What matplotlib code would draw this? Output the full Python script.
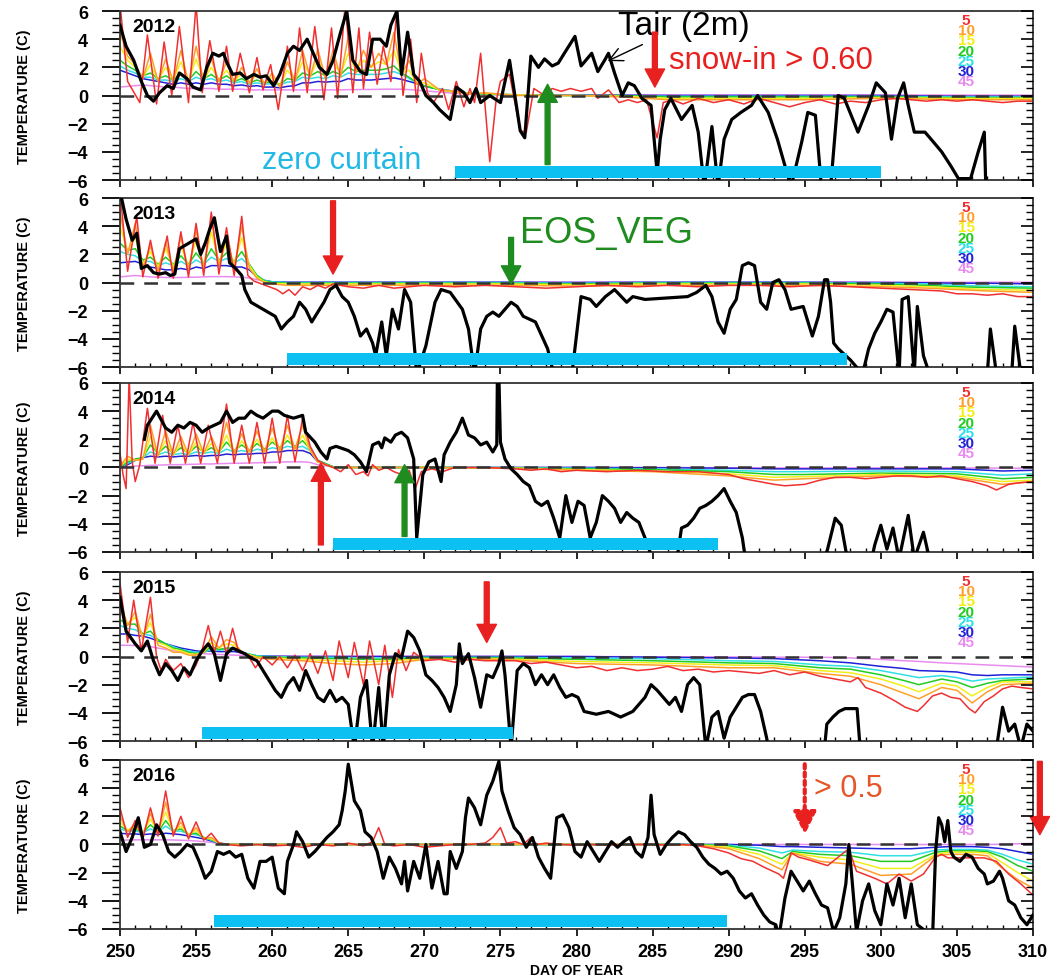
import matplotlib.pyplot as plt
from matplotlib.ticker import MultipleLocator

plt.rcParams['font.family'] = ['Liberation Sans', 'DejaVu Sans']

# ---------------- 2012 ----------------
tair_day_2012 = [250.0, 250.4, 250.9, 251.4, 251.8, 252.2, 252.6, 253.1, 253.5, 253.9,
                 254.4, 254.8, 255.3, 255.7, 256.1, 256.5, 256.8, 257.0, 257.4, 257.9,
                 258.3, 258.8, 259.2, 259.6, 260.1, 260.5, 261.0, 261.4, 261.8, 262.3,
                 262.7, 263.1, 263.6, 264.0, 264.5, 264.9, 265.3, 265.8, 266.2, 266.6,
                 267.1, 267.5, 267.8, 268.2, 268.5, 268.9, 269.3, 269.7, 270.1, 270.6,
                 271.0, 271.7, 272.1, 272.6, 273.0, 273.4, 273.7, 274.3, 275.0, 275.6,
                 276.3, 276.6, 277.0, 277.5, 277.9, 278.4, 278.8, 279.2, 279.9, 280.3,
                 281.0, 281.4, 281.9, 282.1, 282.5, 283.0, 283.4, 283.8, 284.3, 284.9,
                 285.3, 285.5, 285.8, 286.2, 286.9, 287.6, 288.0, 288.4, 288.9, 289.3,
                 289.7, 290.2, 290.8, 291.5, 291.9, 292.6, 293.2, 294.1, 294.8, 295.2,
                 295.7, 296.1, 296.7, 297.2, 297.6, 298.5, 299.2, 299.7, 300.3, 300.7,
                 301.1, 301.5, 301.8, 302.2, 302.9, 303.3, 304.0, 304.6, 305.1, 305.9,
                 306.4, 306.8, 306.9]
tair_2012 = [5.0, 3.5, 2.5, 1.0, 0.0, -0.4, 0.2, 0.7, 0.5, 1.6,
             1.2, 0.6, 0.4, 2.0, 3.0, 2.8, 3.0, 2.4, 1.5, 1.6,
             1.2, 1.5, 1.3, 1.4, 0.7, 1.5, 3.0, 3.5, 3.2, 4.0,
             3.0, 2.0, 1.5, 2.5, 4.5, 6.0, 2.5, 1.7, 1.5, 4.0,
             4.0, 3.5, 5.0, 6.0, 1.5, 4.5, 1.5, 1.0, 0.0, -0.5,
             -1.0, -1.7, 0.6, 0.2, -0.5, 0.5, -0.5, 0.0, -0.5, 2.5,
             -2.5, -3.0, 2.8, 2.0, 2.6, 2.1, 2.3, 3.0, 4.2, 2.1,
             3.0, 1.7, 2.6, 3.0, 1.6, 0.0, 0.9, 0.7, -0.2, -0.7,
             -5.5, -3.1, -1.0, -0.2, -1.7, -0.7, -2.6, -6.5, -2.2, -6.5,
             -3.1, -1.7, -1.2, -0.7, 0.0, -1.2, -3.1, -6.5, -3.3, -1.2,
             -1.4, -6.5, -6.5, 0.0, -0.2, -2.6, -0.7, 0.9, 0.2, -3.1,
             -0.2, 0.9, -0.7, -2.6, -2.6, -3.1, -4.0, -5.0, -5.9, -5.9,
             -4.0, -2.6, -6.5]

t5_day_2012 = [250.0, 250.5, 251.3, 251.8, 252.4, 252.9, 253.4, 253.9, 254.5, 255.0,
               255.4, 255.9, 256.5, 257.0, 257.4, 257.9, 258.5, 259.0, 259.4, 259.9,
               260.4, 261.0, 261.4, 261.8, 262.3, 262.8, 263.4, 263.9, 264.3, 264.8,
               265.3, 265.7, 266.0, 266.4, 266.9, 267.3, 267.8, 268.2, 268.6, 269.1,
               269.5, 269.8, 270.2, 270.6, 271.2, 271.6, 272.1, 272.6, 273.0, 273.3,
               273.7, 274.3, 274.7, 275.0, 275.6, 276.3, 276.7, 277.2, 277.9, 278.4,
               279.0, 279.6, 280.3, 281.0, 281.4, 282.1, 282.8, 283.4, 284.0, 284.6,
               285.3, 285.7, 286.3, 287.0, 288.0, 289.0, 290.0, 291.0, 292.0, 293.0,
               294.0, 295.0, 296.0, 297.0, 298.0, 299.0, 300.0, 301.0, 302.0, 303.0,
               304.0, 305.0, 306.0, 307.0, 308.0, 309.0, 310.0]
t5_2012 = [6.5, 1.0, -0.5, 4.3, -0.6, 3.8, 0.0, 4.9, -0.5, 6.5,
           0.2, 3.9, 0.3, 3.5, 0.3, 3.0, 0.2, 2.7, 0.4, 2.2,
           -1.0, 3.5, 0.3, 4.8, 0.2, 4.9, -0.3, 4.8, -0.2, 6.5,
           0.2, 4.8, 0.5, 4.5, 0.8, 3.5, 1.0, 6.2, 0.0, 4.0,
           -0.5, 3.0, 0.2, -0.5, 0.5, -1.0, 1.0, -0.8, 0.5, -0.5,
           3.0, -4.7, -0.5, 1.0, 1.5, -2.5, -2.6, 0.5, 0.0, 0.5,
           0.3, 0.5, 0.3, 0.5, -0.2, 0.4, -0.5, -0.3, -0.5, -0.3,
           -3.0, -0.5, -0.3, -0.6, -0.2, -0.5, -0.3, -0.6, -0.2, -0.5,
           -0.8, -0.5, -0.3, -0.6, -0.4, -0.5, -0.3, -0.2, -0.3, -0.4,
           -0.3, -0.4, -0.3, -0.4, -0.5, -0.4, -0.4]

soil_day_2012 = [250, 250.5, 251, 251.5, 252, 252.5, 253, 253.5, 254, 254.5,
                 255, 255.5, 256, 256.5, 257, 257.5, 258, 258.5, 259, 259.5,
                 260, 260.5, 261, 261.5, 262, 262.5, 263, 263.5, 264, 264.5,
                 265, 265.5, 266, 266.5, 267, 267.5, 268, 268.5, 269, 269.5,
                 270,
                 271, 272, 273, 274, 276, 278, 280, 283, 286, 290, 295, 300, 305, 310]
t10_2012 = [4.5, 2.8, 2.2, 1.2, 3.0, 1.0, 2.6, 1.0, 3.2, 0.9,
            3.5, 1.0, 2.6, 1.0, 2.4, 1.0, 2.0, 0.9, 1.9, 0.8,
            1.6, 0.6, 2.4, 1.0, 3.2, 1.3, 3.3, 1.2, 3.2, 1.3,
            4.2, 1.6, 3.2, 2.0, 3.0, 2.2, 4.5, 1.5, 2.5, 0.8,
            1.2,
            0.4, 0.3, 0.1, 0.2, 0.0, 0.0, 0.0, -0.1, -0.3, -0.3, -0.3, -0.2, -0.3, -0.3]
t15_2012 = [3.5, 2.5, 2.0, 1.3, 2.2, 1.1, 2.0, 1.1, 2.4, 1.0,
            2.6, 1.1, 2.0, 1.1, 1.8, 1.0, 1.6, 0.9, 1.5, 0.9,
            1.3, 0.7, 1.8, 1.1, 2.4, 1.4, 2.5, 1.4, 2.4, 1.5,
            3.0, 1.8, 2.5, 2.0, 2.4, 2.2, 3.2, 1.6, 1.8, 0.9,
            0.9,
            0.4, 0.25, 0.15, 0.15, 0.05, 0.0, 0.0, -0.05, -0.2, -0.2, -0.2, -0.15, -0.2, -0.2]
t20_2012 = [2.5, 2.1, 1.8, 1.4, 1.6, 1.2, 1.4, 1.1, 1.6, 1.1,
            1.7, 1.2, 1.5, 1.1, 1.4, 1.0, 1.2, 0.9, 1.1, 0.9,
            1.0, 0.8, 1.2, 1.1, 1.6, 1.4, 1.7, 1.4, 1.7, 1.5,
            2.0, 1.7, 1.8, 1.8, 1.8, 1.9, 2.1, 1.6, 1.3, 0.9,
            0.7,
            0.4, 0.25, 0.15, 0.1, 0.05, 0.0, 0.0, 0.0, -0.1, -0.1, -0.1, -0.1, -0.15, -0.15]
t25_2012 = [2.1, 1.8, 1.6, 1.3, 1.3, 1.1, 1.1, 1.0, 1.2, 1.0,
            1.3, 1.1, 1.2, 1.0, 1.1, 0.9, 1.0, 0.8, 0.9, 0.8,
            0.85, 0.75, 0.95, 1.0, 1.3, 1.2, 1.3, 1.2, 1.4, 1.3,
            1.6, 1.5, 1.5, 1.5, 1.5, 1.6, 1.7, 1.5, 1.2, 0.9,
            0.7,
            0.45, 0.3, 0.15, 0.1, 0.05, 0.02, 0.0, 0.0, -0.05, -0.05, -0.05, -0.05, -0.1, -0.1]
t30_2012 = [1.8, 1.6, 1.4, 1.2, 1.1, 1.0, 0.9, 0.8, 0.9, 0.8,
            0.9, 0.8, 0.9, 0.8, 0.8, 0.7, 0.75, 0.65, 0.7, 0.6,
            0.6, 0.55, 0.65, 0.7, 0.9, 0.9, 1.0, 0.95, 1.0, 1.0,
            1.2, 1.1, 1.1, 1.1, 1.15, 1.2, 1.25, 1.15, 1.0, 0.85,
            0.65,
            0.45, 0.3, 0.15, 0.1, 0.05, 0.05, 0.03, 0.02, 0.0, 0.0, 0.0, 0.0, -0.05, -0.05]
t45_2012 = [0.6, 0.65, 0.7, 0.75, 0.7, 0.65, 0.6, 0.6, 0.55, 0.5,
            0.5, 0.5, 0.5, 0.45, 0.45, 0.45, 0.45, 0.4, 0.4, 0.4,
            0.4, 0.4, 0.4, 0.4, 0.4, 0.4, 0.4, 0.4, 0.4, 0.4,
            0.42, 0.42, 0.43, 0.43, 0.44, 0.45, 0.45, 0.45, 0.42, 0.38,
            0.33,
            0.25, 0.15, 0.1, 0.07, 0.05, 0.05, 0.05, 0.05, 0.05, 0.05, 0.05, 0.05, 0.03, 0.03]

# ---------------- 2013 ----------------
tair_day_2013 = [250.0, 250.4, 250.8, 251.1, 251.4, 251.8, 252.2, 252.6, 253.0, 253.3,
                 253.6, 253.9, 255.0, 255.3, 255.6, 255.9, 256.2, 256.6, 257.0, 257.2,
                 257.6, 258.0, 258.2, 258.6, 259.4, 260.2, 260.6, 261.0, 261.4, 261.8,
                 262.2, 262.6, 263.0, 263.4, 263.8, 264.2, 264.6, 265.0, 265.4, 265.8,
                 266.2, 266.6, 266.8, 267.2, 267.5, 267.9, 268.3, 268.7, 269.1, 269.5,
                 270.1, 270.7, 271.1, 271.7, 272.5, 272.9, 273.3, 273.7, 274.1, 274.5,
                 274.9, 275.3, 275.7, 276.1, 276.5, 277.3, 278.1, 278.5, 279.7, 280.3,
                 280.9, 281.3, 281.9, 282.5, 283.3, 283.7, 284.5, 287.3, 287.9, 288.5,
                 288.9, 289.3, 289.7, 290.1, 290.5, 290.9, 291.3, 291.7, 292.1, 292.5,
                 292.9, 293.3, 293.7, 294.1, 294.9, 295.5, 295.9, 296.3, 296.5, 296.7,
                 296.9, 297.2, 298.0, 298.8, 299.2, 299.6, 300.0, 300.4, 300.8, 301.2,
                 301.4, 301.8, 302.2, 302.4, 302.8, 303.2, 307.0, 307.2, 307.6, 308.6,
                 308.8, 309.2, 310.0]
tair_2013 = [6.5, 4.5, 3.0, 3.5, 1.0, 1.2, 0.7, 0.6, 0.7, 0.5,
             0.6, 2.4, 3.1, 2.0, 2.8, 3.8, 4.6, 2.2, 3.3, 1.4,
             1.0, 0.5, -0.5, -1.4, -1.9, -2.4, -3.3, -2.8, -2.4, -1.4,
             -1.9, -2.8, -2.1, -1.4, -0.5, -0.2, -1.0, -1.4, -2.4, -3.8,
             -3.3, -4.3, -5.2, -2.8, -5.2, -1.9, -3.3, -0.5, -1.4, -6.5,
             -4.5, -1.4, -0.5, -0.7, -1.9, -3.3, -6.5, -3.3, -2.4, -2.1,
             -2.4, -1.9, -1.4, -1.7, -2.4, -2.8, -4.7, -6.5, -6.5, -1.0,
             -1.2, -1.7, -1.0, -0.5, -1.4, -1.0, -1.2, -1.0, -0.7, -0.2,
             -1.0, -2.8, -3.6, -1.9, -1.2, 1.2, 1.4, 1.2, -1.4, -1.9,
             0.0, 0.2, -0.5, -1.9, -1.7, -3.8, -2.4, 0.2, 0.2, -1.4,
             -4.3, -4.7, -5.5, -6.5, -4.7, -3.6, -2.8, -1.9, -2.1, -6.5,
             -1.2, -1.0, -6.5, -1.7, -5.2, -6.5, -6.5, -3.3, -6.5, -6.5,
             -3.1, -6.5, -6.5]

t5_day_2013 = [250.0, 250.5, 251.1, 251.5, 252.0, 252.5, 253.1, 253.5, 254.0, 254.5,
               255.0, 255.5, 256.0, 256.5, 257.0, 257.5, 258.0, 258.4, 258.8, 259.3,
               259.8, 260.3, 260.7, 261.1, 261.5, 262.0, 262.5, 263.0, 263.5, 264.0,
               265.0, 266.0, 267.0, 268.0, 269.0, 270.0, 272.0, 274.0, 276.0, 278.0,
               280.0, 282.0, 284.0, 286.0, 288.0, 290.0, 292.0, 294.0, 296.0, 298.0,
               300.0, 302.0, 304.0, 305.0, 306.0, 307.0, 308.0, 309.0, 310.0]
t5_2013 = [6.5, 0.8, 4.7, 0.4, 3.0, 0.3, 3.3, 0.3, 3.6, 0.4,
           4.2, 0.5, 5.0, 0.6, 3.9, 0.5, 4.7, 0.5, 0.1, -0.1,
           -0.3, -0.5, -0.8, -0.5, -0.9, -0.3, -0.5, -0.2, -0.4, -0.1,
           -0.3, -0.4, -0.2, -0.4, -0.3, -0.2, -0.3, -0.2, -0.3, -0.4,
           -0.3, -0.2, -0.3, -0.2, -0.3, -0.2, -0.2, -0.3, -0.2, -0.3,
           -0.4, -0.5, -0.6, -0.8, -0.8, -0.9, -0.8, -1.0, -1.0]

soil_day_2013 = [250, 250.5, 251, 251.5, 252, 252.5, 253, 253.5, 254, 254.5,
                 255, 255.5, 256, 256.5, 257, 257.5, 258,
                 258.5, 259, 259.5, 260, 261, 262, 265, 270, 275, 280, 285, 290,
                 295, 300, 303, 305, 307, 310]
t10_2013 = [5.0, 2.0, 4.2, 1.0, 2.6, 0.8, 2.9, 0.8, 3.2, 0.9,
            3.7, 1.0, 4.6, 1.2, 3.4, 1.0, 4.0,
            1.0, 0.3, 0.0, -0.1, -0.2, -0.2, -0.2, -0.2, -0.2, -0.25, -0.2, -0.2,
            -0.2, -0.3, -0.4, -0.5, -0.6, -0.7]
t15_2013 = [4.0, 2.2, 3.2, 1.3, 2.2, 1.1, 2.4, 1.1, 2.6, 1.1,
            3.0, 1.2, 3.6, 1.4, 2.8, 1.3, 3.2,
            1.2, 0.4, 0.05, -0.05, -0.1, -0.1, -0.1, -0.1, -0.1, -0.15, -0.1, -0.1,
            -0.1, -0.2, -0.3, -0.4, -0.5, -0.55]
t20_2013 = [2.8, 2.3, 2.4, 1.6, 1.8, 1.3, 1.8, 1.3, 1.9, 1.3,
            2.1, 1.4, 2.4, 1.6, 2.1, 1.5, 2.2,
            1.3, 0.5, 0.1, 0.0, -0.05, -0.05, -0.05, -0.05, -0.05, -0.1, -0.05, -0.05,
            -0.05, -0.1, -0.2, -0.3, -0.35, -0.4]
t25_2013 = [2.2, 2.0, 1.9, 1.5, 1.5, 1.2, 1.4, 1.2, 1.5, 1.2,
            1.6, 1.3, 1.8, 1.5, 1.7, 1.4, 1.7,
            1.2, 0.5, 0.15, 0.05, 0.0, 0.0, 0.0, 0.0, 0.0, -0.05, 0.0, 0.0,
            0.0, -0.05, -0.1, -0.2, -0.25, -0.3]
t30_2013 = [1.4, 1.45, 1.5, 1.3, 1.1, 1.0, 0.9, 0.9, 1.0, 0.9,
            1.1, 1.0, 1.2, 1.2, 1.2, 1.1, 1.1,
            0.9, 0.4, 0.15, 0.05, 0.02, 0.02, 0.02, 0.02, 0.02, 0.0, 0.02, 0.02,
            0.02, 0.0, -0.02, -0.05, -0.05, -0.1]
t45_2013 = [0.4, 0.45, 0.5, 0.45, 0.4, 0.38, 0.36, 0.35, 0.36, 0.37,
            0.38, 0.4, 0.42, 0.42, 0.42, 0.4, 0.38,
            0.32, 0.2, 0.1, 0.05, 0.03, 0.03, 0.03, 0.03, 0.03, 0.03, 0.03, 0.03,
            0.03, 0.03, 0.02, 0.02, 0.02, 0.02]

# ---------------- 2014 ----------------
tair_day_2014 = [251.6, 251.8, 252.4, 253.0, 253.4, 253.8, 254.2, 254.6, 255.0, 255.4,
                 255.8, 256.2, 256.6, 257.0, 257.4, 257.8, 258.2, 258.6, 259.0, 259.4,
                 260.0, 260.4, 260.8, 261.4, 262.0, 262.2, 262.8, 263.2, 263.6, 263.8,
                 264.2, 264.6, 265.0, 265.4, 265.8, 266.2, 266.6, 267.0, 267.2, 267.4,
                 267.8, 268.1, 268.5, 268.9, 269.3, 269.5, 269.9, 270.3, 270.7, 271.1,
                 271.3, 271.7, 272.1, 272.5, 272.9, 273.3, 273.7, 274.1, 274.5, 274.76,
                 274.8, 274.9, 275.0, 275.3, 275.7, 276.1, 276.5, 276.9, 277.3, 277.7,
                 278.1, 278.5, 278.9, 279.3, 279.7, 280.1, 280.5, 280.9, 281.3, 281.7,
                 282.1, 282.5, 282.9, 283.3, 283.7, 284.1, 284.5, 285.0, 286.6, 286.9,
                 287.3, 287.7, 288.1, 288.5, 288.9, 289.3, 289.7, 290.1, 290.5, 290.9,
                 291.1, 296.3, 296.5, 297.0, 297.4, 297.8, 299.4, 299.6, 300.0, 300.4,
                 300.8, 301.2, 301.8, 302.2, 302.8, 303.2, 310.0]
tair_2014 = [2.0, 3.0, 4.0, 2.8, 2.5, 3.0, 2.8, 3.2, 3.0, 2.5,
             2.8, 3.0, 3.2, 4.0, 3.2, 3.5, 3.5, 4.0, 3.7, 3.5,
             4.0, 4.0, 3.7, 3.5, 3.7, 2.5, 1.8, 1.1, 0.6, 1.35,
             1.5, 1.35, 1.2, 0.9, 0.4, -0.3, 1.6, 1.8, 1.4, 2.1,
             1.8, 2.3, 2.5, 2.1, 0.6, -5.0, -0.5, 0.4, 0.6, -1.0,
             0.9, 1.8, 2.5, 3.5, 2.3, 2.1, 1.6, 1.8, 1.1, 1.6,
             6.5, 6.5, 1.8, 0.6, -0.1, -0.5, -1.0, -1.3, -2.4, -2.7,
             -2.4, -3.6, -5.0, -2.0, -3.9, -2.4, -2.7, -5.0, -3.9, -2.0,
             -2.4, -2.9, -3.9, -3.2, -3.6, -3.9, -5.0, -6.5, -6.5, -4.3,
             -4.1, -3.6, -2.9, -2.7, -2.4, -2.0, -1.5, -2.4, -3.2, -5.0,
             -6.5, -6.5, -5.8, -3.6, -4.1, -6.5, -6.5, -5.5, -4.1, -5.8,
             -4.3, -6.5, -3.4, -6.5, -4.6, -6.5, -6.5]

t5_day_2014 = [250.0, 250.2, 250.4, 250.6, 250.8, 251.0, 251.3, 251.8, 252.3, 252.8,
               253.3, 253.8, 254.3, 254.8, 255.3, 255.8, 256.4, 257.0, 257.5, 258.0,
               258.5, 259.0, 259.5, 260.0, 260.5, 261.0, 261.5, 262.0, 262.5, 263.0,
               263.5, 264.0, 264.5, 265.0, 265.5, 266.0, 266.3, 266.6, 267.0, 267.5,
               268.0, 268.5, 269.0, 269.4, 269.8, 270.5, 271.2, 272.0, 274.0, 276.0,
               277.0, 278.0, 279.0, 280.0, 282.0, 284.0, 286.0, 288.0, 289.0, 290.0,
               291.0, 292.0, 293.0, 293.7, 295.0, 296.0, 297.0, 298.0, 299.0, 300.0,
               301.0, 302.0, 303.0, 304.0, 305.0, 306.0, 307.0, 307.6, 308.4, 309.0,
               310.0]
t5_2014 = [1.0, -0.5, -1.5, 6.5, 0.4, -1.0, 0.2, 4.2, 0.3, 3.7,
           0.3, 3.0, 0.3, 3.2, 0.3, 3.0, 0.3, 4.5, 0.3, 3.0,
           0.3, 3.2, 0.3, 3.5, 0.3, 3.7, 0.4, 3.5, 1.5, 0.5,
           0.2, 0.0, -0.3, 0.2, -0.5, -0.3, -0.6, 0.2, -0.2, 0.0,
           -0.3, -0.5, -0.2, -1.5, -0.3, -0.1, -0.3, 0.0, 0.0, -0.1,
           -0.2, -0.1, -0.3, -0.2, -0.3, -0.2, -0.3, -0.3, -0.4, -0.5,
           -0.8, -1.0, -1.2, -1.3, -1.2, -0.9, -0.7, -0.7, -0.8, -0.7,
           -0.6, -0.6, -0.7, -0.6, -0.8, -1.0, -1.3, -1.6, -1.2, -1.1,
           -1.0]

soil_day_2014 = [250, 250.5, 251, 251.5, 252, 252.5, 253, 253.5, 254, 254.5,
                 255, 255.5, 256, 256.5, 257, 257.5, 258, 258.5, 259, 259.5,
                 260, 260.5, 261, 261.5, 262, 262.5, 263,
                 264, 265, 270, 275, 280, 285, 290, 293, 295, 300, 305, 308, 310]
t10_2014 = [0.1, 0.8, 0.5, 0.6, 3.0, 0.8, 2.6, 0.9, 2.2, 0.9,
            2.4, 1.0, 2.2, 1.0, 3.2, 1.0, 2.4, 1.1, 2.6, 1.1,
            2.8, 1.2, 3.0, 1.3, 3.0, 1.2, 0.4,
            0.0, 0.0, 0.0, -0.05, -0.2, -0.3, -0.6, -0.9, -0.8, -0.6, -0.7, -1.2, -1.0]
t15_2014 = [0.05, 0.6, 0.5, 0.6, 2.2, 0.9, 1.9, 0.9, 1.7, 0.9,
            1.8, 1.0, 1.7, 1.0, 2.3, 1.0, 1.9, 1.1, 2.0, 1.1,
            2.1, 1.2, 2.3, 1.3, 2.3, 1.2, 0.4,
            0.0, 0.0, 0.0, -0.03, -0.15, -0.25, -0.45, -0.7, -0.65, -0.5, -0.6, -1.0, -0.9]
t20_2014 = [0.0, 0.4, 0.6, 0.7, 1.6, 1.0, 1.5, 1.0, 1.4, 1.0,
            1.5, 1.1, 1.4, 1.1, 1.8, 1.2, 1.6, 1.2, 1.7, 1.3,
            1.8, 1.4, 1.9, 1.5, 1.9, 1.3, 0.5,
            0.05, 0.0, 0.0, -0.02, -0.1, -0.15, -0.3, -0.5, -0.5, -0.4, -0.45, -0.8, -0.7]
t25_2014 = [0.0, 0.3, 0.5, 0.7, 1.1, 0.9, 1.1, 0.9, 1.0, 0.9,
            1.1, 1.0, 1.1, 1.0, 1.3, 1.1, 1.2, 1.1, 1.3, 1.2,
            1.4, 1.3, 1.5, 1.4, 1.5, 1.2, 0.5,
            0.05, 0.0, 0.0, 0.0, -0.05, -0.1, -0.2, -0.3, -0.3, -0.25, -0.3, -0.55, -0.45]
t30_2014 = [0.0, 0.2, 0.5, 0.7, 0.8, 0.75, 0.8, 0.75, 0.8, 0.8,
            0.85, 0.8, 0.85, 0.85, 0.95, 0.9, 0.95, 0.95, 1.0, 1.0,
            1.1, 1.1, 1.2, 1.2, 1.2, 1.0, 0.4,
            0.05, 0.0, 0.0, 0.0, 0.0, -0.02, -0.05, -0.1, -0.1, -0.1, -0.1, -0.25, -0.2]
t45_2014 = [0.0, 0.05, 0.1, 0.12, 0.15, 0.17, 0.18, 0.2, 0.2, 0.22,
            0.23, 0.25, 0.25, 0.27, 0.28, 0.3, 0.3, 0.32, 0.33, 0.35,
            0.36, 0.38, 0.4, 0.4, 0.4, 0.35, 0.2,
            0.05, 0.02, 0.0, 0.0, 0.0, 0.0, -0.02, -0.03, -0.03, -0.03, -0.03, -0.05, -0.05]

# ---------------- 2015 ----------------
tair_day_2015 = [250.0, 250.4, 251.0, 251.4, 251.8, 252.2, 252.6, 253.0, 253.4, 253.8,
                 254.2, 254.6, 255.0, 255.4, 255.8, 256.2, 256.6, 257.0, 257.4, 257.8,
                 258.2, 258.6, 259.0, 259.4, 259.8, 260.2, 260.6, 261.0, 261.4, 261.8,
                 262.2, 262.6, 263.0, 263.4, 263.8, 264.2, 264.6, 265.0, 265.4, 265.8,
                 266.2, 266.6, 267.0, 267.3, 267.7, 268.1, 268.5, 268.9, 269.3, 269.7,
                 270.1, 270.5, 270.9, 271.3, 271.7, 272.1, 272.3, 272.5, 272.9, 273.3,
                 273.7, 274.1, 274.5, 274.9, 275.1, 275.3, 275.7, 276.1, 276.5, 276.9,
                 277.3, 277.7, 278.1, 278.5, 278.9, 279.3, 279.7, 280.1, 280.5, 281.3,
                 282.1, 282.9, 283.7, 284.5, 284.9, 285.3, 285.7, 286.1, 286.5, 286.9,
                 287.3, 287.7, 288.1, 288.5, 288.9, 289.3, 289.7, 290.1, 290.5, 290.9,
                 291.3, 291.7, 292.1, 292.5, 292.6, 296.3, 296.45, 296.85, 297.25, 297.65,
                 298.44, 298.64, 307.6, 308.0, 308.4, 308.8, 309.2, 309.6, 310.0]
tair_2015 = [4.2, 1.8, 0.9, 0.4, 1.1, -0.3, -1.3, -0.5, -1.0, -1.7,
             -0.8, -1.3, -0.3, 0.4, 0.9, 0.2, -1.7, 0.2, 0.6, 0.4,
             0.2, -0.1, -0.3, -1.0, -1.7, -2.4, -2.9, -2.0, -1.5, -2.4,
             -1.0, -2.0, -2.9, -3.2, -2.4, -3.2, -2.9, -3.4, -6.5, -2.9,
             -1.7, -6.5, -2.2, -6.5, -1.3, 0.2, -0.1, 1.8, 1.35, 0.4,
             -1.3, -1.7, -2.2, -2.9, -3.9, -2.0, 0.9, -0.5, 0.2, -1.5,
             -3.6, -1.3, -1.5, -0.5, 0.4, -1.3, -6.5, -1.0, -0.5, -0.8,
             -2.0, -1.3, -2.0, -1.3, -2.2, -2.9, -2.7, -2.9, -3.9, -4.1,
             -3.9, -4.3, -3.9, -2.9, -2.0, -2.4, -2.9, -3.4, -2.9, -3.9,
             -2.0, -1.5, -2.0, -6.5, -4.3, -3.9, -5.8, -4.3, -3.6, -2.9,
             -2.7, -2.7, -3.9, -5.8, -6.5, -6.5, -4.8, -4.3, -3.9, -3.7,
             -3.7, -6.5, -6.5, -3.6, -5.3, -4.8, -6.5, -4.8, -5.3]

t5_day_2015 = [250.0, 250.5, 250.9, 251.4, 252.0, 252.4, 252.7, 253.0, 253.5, 254.0,
               254.5, 255.0, 255.4, 255.8, 256.2, 256.6, 257.0, 257.4, 257.8, 258.4,
               258.9, 259.4, 260.0, 260.5, 261.0, 261.5, 262.0, 262.5, 263.0, 263.5,
               264.0, 264.4, 265.0, 265.4, 266.0, 266.4, 267.0, 267.4, 267.9, 268.3,
               268.8, 269.3, 270.0, 271.0, 272.0, 273.0, 274.0, 275.0, 276.0, 277.0,
               278.0, 279.0, 280.0, 281.0, 282.0, 283.0, 284.0, 285.0, 286.0, 287.0,
               288.0, 289.0, 290.0, 291.0, 292.0, 293.0, 294.0, 295.0, 296.0, 297.0,
               298.0, 298.5, 299.0, 300.0, 301.0, 301.6, 302.4, 302.8, 303.4, 304.0,
               304.6, 305.2, 305.8, 306.2, 306.8, 307.4, 308.0, 308.6, 309.2, 310.0]
t5_2015 = [5.2, 1.0, 4.0, 0.4, 4.2, 0.0, -1.0, -0.2, -1.0, -0.5,
           -1.5, -0.6, 0.5, 2.2, 0.3, 1.8, 0.2, 2.0, 0.3, 0.1,
           -0.8, 0.0, -0.6, 0.0, -0.8, 0.1, -1.0, 0.2, -1.2, 0.4,
           -1.7, 1.1, -1.5, 1.0, -2.0, 1.1, -2.0, 0.8, -2.9, 0.5,
           -1.0, 0.3, -0.3, -0.2, -0.4, -0.2, -0.3, -0.3, -0.3, -0.5,
           -0.4, -0.6, -0.8, -0.7, -1.0, -0.8, -1.0, -0.9, -0.7, -1.0,
           -0.9, -1.1, -1.0, -1.1, -1.2, -1.0, -1.3, -1.1, -1.4, -1.6,
           -1.8, -1.5, -2.2, -2.6, -3.2, -3.6, -3.9, -3.5, -2.8, -2.6,
           -2.9, -3.0, -3.7, -4.0, -3.2, -2.8, -2.3, -2.1, -2.2, -2.3]

soil_day_2015 = [250, 250.5, 251, 251.5, 252, 252.5, 253, 253.5, 254, 254.5,
                 255, 255.5, 256, 256.5, 257, 257.5, 258,
                 259, 260, 262, 264, 266, 268, 270, 275, 280, 285, 290, 293, 296,
                 298, 300, 301.5, 302.5, 304, 305, 306, 307, 308, 310]
t10_2015 = [4.0, 2.2, 3.2, 1.2, 3.0, 0.8, 0.6, 0.3, 0.3, 0.1,
            0.1, 0.3, 1.4, 0.6, 1.2, 1.0, 0.3,
            -0.1, -0.2, -0.3, -0.5, -0.6, -0.5, -0.2, -0.2, -0.5, -0.6, -0.8, -0.8, -1.2,
            -1.4, -2.0, -2.6, -3.0, -2.2, -2.4, -3.3, -2.5, -2.0, -1.9]
t15_2015 = [3.3, 2.3, 2.8, 1.4, 2.4, 1.0, 0.8, 0.5, 0.4, 0.2,
            0.15, 0.3, 1.0, 0.6, 0.9, 0.8, 0.3,
            -0.05, -0.1, -0.2, -0.3, -0.4, -0.3, -0.15, -0.15, -0.35, -0.45, -0.6, -0.65, -1.0,
            -1.15, -1.6, -2.1, -2.5, -1.9, -2.1, -2.8, -2.2, -1.8, -1.8]
t20_2015 = [2.6, 2.3, 2.3, 1.6, 1.8, 1.2, 0.9, 0.6, 0.5, 0.3,
            0.2, 0.3, 0.7, 0.5, 0.6, 0.6, 0.3,
            0.0, -0.05, -0.1, -0.15, -0.2, -0.2, -0.1, -0.1, -0.2, -0.3, -0.45, -0.5, -0.8,
            -0.9, -1.3, -1.7, -2.0, -1.6, -1.8, -2.2, -1.9, -1.7, -1.6]
t25_2015 = [2.2, 2.0, 1.9, 1.6, 1.5, 1.2, 0.9, 0.7, 0.5, 0.4,
            0.3, 0.3, 0.5, 0.45, 0.5, 0.5, 0.3,
            0.05, 0.0, -0.05, -0.05, -0.1, -0.1, -0.05, -0.05, -0.1, -0.15, -0.3, -0.35, -0.6,
            -0.7, -1.0, -1.3, -1.5, -1.35, -1.5, -1.75, -1.6, -1.55, -1.45]
t30_2015 = [1.6, 1.6, 1.5, 1.45, 1.3, 1.1, 0.9, 0.75, 0.6, 0.5,
            0.4, 0.35, 0.4, 0.35, 0.35, 0.35, 0.25,
            0.05, 0.02, 0.0, 0.0, 0.0, 0.0, 0.0, 0.0, 0.0, -0.05, -0.1, -0.15, -0.3,
            -0.45, -0.7, -0.85, -1.0, -1.05, -1.1, -1.3, -1.35, -1.3, -1.3]
t45_2015 = [0.8, 0.8, 0.78, 0.75, 0.7, 0.6, 0.5, 0.42, 0.35, 0.3,
            0.25, 0.2, 0.18, 0.15, 0.12, 0.1, 0.08,
            0.05, 0.03, 0.02, 0.02, 0.02, 0.02, 0.02, 0.02, 0.0, -0.02, -0.03, -0.05, -0.05,
            -0.1, -0.2, -0.3, -0.35, -0.45, -0.5, -0.55, -0.6, -0.65, -0.75]

# ---------------- 2016 ----------------
tair_day_2016 = [250.0, 250.4, 250.8, 251.2, 251.6, 252.0, 252.4, 252.8, 253.2, 253.6,
                 254.0, 254.4, 254.8, 255.2, 255.6, 256.0, 256.4, 256.8, 257.2, 257.6,
                 258.0, 258.4, 258.8, 259.2, 259.6, 260.0, 260.4, 260.8, 261.0, 261.4,
                 261.6, 262.0, 262.4, 262.8, 263.2, 263.6, 264.0, 264.4, 264.6, 264.8,
                 265.0, 265.4, 265.8, 266.1, 266.5, 266.9, 267.3, 267.7, 268.1, 268.5,
                 268.7, 268.9, 269.3, 269.7, 270.1, 270.5, 270.9, 271.3, 271.5, 271.7,
                 272.1, 272.5, 272.7, 272.9, 273.3, 273.7, 274.1, 274.5, 274.7, 274.9,
                 275.1, 275.5, 275.9, 276.3, 276.7, 277.1, 277.5, 277.9, 278.3, 278.7,
                 279.1, 279.5, 279.9, 280.3, 280.7, 281.1, 281.5, 281.9, 282.3, 282.7,
                 283.1, 283.5, 283.9, 284.3, 284.7, 284.9, 285.1, 285.5, 285.9, 286.3,
                 286.7, 287.1, 287.5, 287.9, 288.3, 288.7, 289.1, 289.5, 289.9, 290.3,
                 290.7, 291.1, 291.5, 291.9, 292.3, 292.7, 293.1, 293.3, 293.7, 294.1,
                 294.5, 294.9, 295.3, 295.7, 296.1, 296.5, 296.9, 297.3, 297.7, 297.9,
                 298.1, 298.4, 298.8, 299.2, 299.6, 300.0, 300.4, 300.8, 301.2, 301.6,
                 302.0, 302.4, 303.0, 303.4, 303.6, 303.8, 304.0, 304.2, 304.4, 304.6,
                 304.8, 305.2, 305.6, 306.0, 306.4, 306.8, 307.0, 307.4, 307.8, 308.0,
                 308.4, 308.8, 309.2, 309.6, 310.0]
tair_2016 = [0.9, -0.5, 0.5, 1.9, -0.2, 0.0, 1.4, 0.7, -0.5, -0.9,
             -0.5, 0.0, -0.2, -1.2, -2.4, -1.9, -0.5, -0.7, -0.5, -0.9,
             -0.7, -2.4, -3.1, -1.2, -1.2, -0.9, -3.1, -3.5, -1.2, 0.0,
             0.9, 0.2, -0.9, -0.5, 0.0, 0.5, 0.9, 1.4, 2.4, 3.8,
             5.7, 3.1, 2.4, 0.9, 0.5, -0.5, -2.4, -0.9, -1.7, -2.8,
             -1.2, -3.3, -1.2, -2.4, 0.0, -3.1, -1.2, -3.5, -3.5, -0.5,
             -1.7, -0.5, 1.9, 3.3, 2.6, 1.4, 3.5, 4.5, 5.2, 5.9,
             3.8, 2.4, 1.2, 0.7, -0.2, 0.5, -0.9, -1.7, -2.4, 1.9,
             2.1, 1.2, -0.5, -0.9, 0.2, -0.5, -1.2, -0.5, 0.2, -0.2,
             0.2, 0.5, -0.5, -0.9, 0.5, 3.5, 0.7, -0.7, 0.0, 0.5,
             0.9, 0.7, 0.2, -0.2, -0.9, -1.4, -1.7, -2.1, -1.9, -2.4,
             -3.3, -3.8, -3.5, -4.3, -5.0, -5.5, -5.7, -6.6, -3.8, -1.9,
             -2.6, -3.3, -2.6, -3.5, -4.3, -4.5, -6.2, -5.2, -2.8, 0.0,
             -2.4, -6.2, -4.0, -2.8, -4.7, -5.7, -2.8, -4.3, -2.4, -5.2,
             -2.8, -5.7, -6.2, -6.6, -0.5, 1.9, 1.4, 0.2, 1.7, -0.5,
             -0.9, -1.2, -0.7, -0.9, -1.7, -2.1, -2.8, -2.6, -1.9, -2.4,
             -4.0, -4.3, -5.2, -5.7, -5.0]

t5_day_2016 = [250.0, 250.5, 251.0, 251.5, 252.0, 252.5, 253.0, 253.5, 254.0, 254.5,
               255.0, 255.5, 256.0, 256.5, 257.0, 258.0, 259.0, 260.0, 261.0, 262.0,
               263.0, 264.0, 265.0, 266.0, 266.6, 267.0, 267.4, 268.0, 269.0, 270.0,
               271.0, 272.0, 273.0, 274.0, 274.5, 275.0, 275.4, 276.0, 276.5, 277.0,
               277.4, 278.0, 279.0, 280.0, 281.0, 282.0, 283.0, 284.0, 285.0, 286.0,
               287.0, 288.0, 289.0, 290.0, 290.8, 291.6, 292.3, 293.3, 293.6, 294.1,
               294.6, 295.3, 296.5, 297.9, 298.4, 299.6, 300.4, 301.2, 302.0, 302.8,
               303.6, 304.0, 304.4, 305.6, 306.8, 307.6, 308.4, 309.2, 310.0]
t5_2016 = [2.6, 0.5, 1.7, 0.4, 2.6, 0.6, 3.8, 0.6, 2.0, 0.4,
           1.6, 0.3, 0.8, 0.1, 0.0, -0.1, 0.0, -0.1, -0.05, -0.2,
           0.0, -0.1, 0.1, -0.1, 0.2, 1.2, 0.0, -0.1, 0.0, -0.2,
           -0.1, 0.0, 0.0, 0.1, 0.5, 1.2, 0.1, 0.2, 0.0, 0.5,
           0.0, 0.1, 0.0, -0.05, 0.0, -0.05, 0.0, 0.0, 0.0, -0.05,
           0.0, -0.1, -0.3, -0.6, -1.0, -1.2, -1.6, -2.1, -2.4, -0.6,
           -0.9, -1.1, -1.5, -0.3, -1.9, -2.4, -2.8, -2.1, -2.6, -2.1,
           -0.9, -0.7, -0.95, -0.95, -0.95, -1.2, -2.1, -2.8, -3.6]

soil_day_2016 = [250, 250.5, 251, 251.5, 252, 252.5, 253, 253.5, 254, 254.5,
                 255, 255.5, 256, 256.5, 257,
                 258, 260, 265, 270, 275, 280, 285, 288, 290, 292, 293.5, 294.2,
                 296, 298, 300, 302, 303.6, 304.5, 306, 307, 308, 309, 310]
t10_2016 = [2.0, 0.9, 1.5, 0.7, 2.2, 0.8, 3.0, 0.8, 1.6, 0.6,
            1.2, 0.4, 0.5, 0.1, 0.0,
            0.0, 0.0, 0.0, 0.0, 0.05, 0.0, 0.0, -0.05, -0.3, -1.0, -1.8, -0.6,
            -1.2, -1.4, -2.2, -2.1, -0.8, -0.7, -0.7, -0.8, -1.7, -2.5, -3.1]
t15_2016 = [1.6, 1.0, 1.3, 0.8, 1.8, 0.9, 2.3, 0.9, 1.3, 0.7,
            1.0, 0.45, 0.4, 0.1, 0.0,
            0.0, 0.0, 0.0, 0.0, 0.0, 0.0, 0.0, -0.03, -0.2, -0.7, -1.4, -0.6,
            -0.9, -1.1, -1.7, -1.7, -0.7, -0.55, -0.55, -0.6, -1.3, -2.0, -2.6]
t20_2016 = [1.3, 1.0, 1.1, 0.85, 1.4, 0.9, 1.7, 1.0, 1.1, 0.75,
            0.8, 0.5, 0.35, 0.1, 0.0,
            0.0, 0.0, 0.0, 0.0, 0.0, 0.0, 0.0, 0.0, -0.1, -0.45, -1.0, -0.5,
            -0.7, -0.8, -1.2, -1.2, -0.55, -0.45, -0.45, -0.5, -0.9, -1.5, -1.9]
t25_2016 = [1.1, 0.95, 0.95, 0.85, 1.1, 0.9, 1.3, 0.95, 0.95, 0.75,
            0.7, 0.5, 0.3, 0.1, 0.02,
            0.0, 0.0, 0.0, 0.0, 0.0, 0.0, 0.0, 0.0, -0.05, -0.25, -0.6, -0.4,
            -0.5, -0.55, -0.8, -0.8, -0.4, -0.35, -0.35, -0.4, -0.7, -1.1, -1.4]
t30_2016 = [0.8, 0.75, 0.75, 0.7, 0.75, 0.7, 0.8, 0.75, 0.7, 0.6,
            0.5, 0.4, 0.25, 0.1, 0.03,
            0.0, 0.0, 0.0, 0.0, 0.0, 0.0, 0.0, 0.0, 0.0, -0.05, -0.15, -0.15,
            -0.2, -0.25, -0.3, -0.3, -0.2, -0.15, -0.15, -0.2, -0.3, -0.5, -0.7]
t45_2016 = [0.3, 0.32, 0.33, 0.33, 0.33, 0.33, 0.33, 0.32, 0.3, 0.28,
            0.25, 0.2, 0.15, 0.08, 0.04,
            0.02, 0.0, 0.0, 0.0, 0.0, 0.0, 0.0, 0.0, 0.0, 0.0, 0.0, 0.0,
            0.0, 0.0, 0.0, 0.0, 0.0, 0.0, 0.0, 0.0, 0.02, 0.05, 0.08]

# zero curtain periods (day of year)
zc_start = [272.0, 261.0, 264.0, 255.4, 256.2]
zc_end = [300.0, 297.8, 289.3, 275.8, 289.9]

years = ['2012', '2013', '2014', '2015', '2016']
depth_labels = ['5', '10', '15', '20', '25', '30', '45']
depth_colors = ['#f03030', '#ff9f2a', '#f2ee1a', '#22cc22', '#30e0e6', '#1f22d8', '#e98cf0']

tair_days = [tair_day_2012, tair_day_2013, tair_day_2014, tair_day_2015, tair_day_2016]
tairs = [tair_2012, tair_2013, tair_2014, tair_2015, tair_2016]
t5_days = [t5_day_2012, t5_day_2013, t5_day_2014, t5_day_2015, t5_day_2016]
t5s = [t5_2012, t5_2013, t5_2014, t5_2015, t5_2016]
soil_days = [soil_day_2012, soil_day_2013, soil_day_2014, soil_day_2015, soil_day_2016]
deeper = [
    [t10_2012, t15_2012, t20_2012, t25_2012, t30_2012, t45_2012],
    [t10_2013, t15_2013, t20_2013, t25_2013, t30_2013, t45_2013],
    [t10_2014, t15_2014, t20_2014, t25_2014, t30_2014, t45_2014],
    [t10_2015, t15_2015, t20_2015, t25_2015, t30_2015, t45_2015],
    [t10_2016, t15_2016, t20_2016, t25_2016, t30_2016, t45_2016],
]

RED = '#e82020'
GREEN = '#1e8c1e'
CYAN = '#0cc0f2'

fig = plt.figure(figsize=(10.5, 9.78), dpi=100)
bottoms = [0.8149, 0.6237, 0.4346, 0.2413, 0.0491]
axes = []
for i, b in enumerate(bottoms):
    ax = fig.add_axes([0.1143, b, 0.8695, 0.1728])
    axes.append(ax)

    # soil temperatures, deepest first
    for vals, col in reversed(list(zip(deeper[i], depth_colors[1:]))):
        ax.plot(soil_days[i], vals, color=col, lw=1.1, zorder=2)
    ax.plot(t5_days[i], t5s[i], color=depth_colors[0], lw=1.1, zorder=2.5)
    ax.axhline(0, color='#333333', lw=1.8, ls=(0, (5.5, 4)), zorder=3)
    ax.plot(tair_days[i], tairs[i], color='black', lw=2.3, zorder=4)
    ax.barh(-5.45, zc_end[i] - zc_start[i], left=zc_start[i], height=0.85,
            color=CYAN, zorder=5)

    ax.set_xlim(250, 310)
    ax.set_ylim(-6, 6)
    ax.xaxis.set_major_locator(MultipleLocator(5))
    ax.xaxis.set_minor_locator(MultipleLocator(1))
    ax.yaxis.set_major_locator(MultipleLocator(2))
    ax.yaxis.set_minor_locator(MultipleLocator(0.5))
    ax.tick_params(axis='y', which='major', direction='out', length=13, width=1.3,
                   labelsize=13, pad=10, right=False)
    ax.tick_params(axis='y', which='minor', direction='out', length=6, width=1.0, right=False)
    ax.tick_params(axis='x', which='major', direction='out', length=5, width=1.2,
                   labelsize=13, pad=5)
    ax.tick_params(axis='x', which='minor', direction='in', length=3, width=1.0)
    for lab in ax.get_yticklabels() + ax.get_xticklabels():
        lab.set_fontweight('bold')
    if i < 4:
        ax.tick_params(axis='x', which='both', labelbottom=False)
    for sp in ax.spines.values():
        sp.set_linewidth(1.3)
        sp.set_color('#333333')

    # right-hand inward ticks
    rax = ax.twinx()
    rax.set_ylim(-6, 6)
    rax.yaxis.set_major_locator(MultipleLocator(2))
    rax.yaxis.set_minor_locator(MultipleLocator(0.5))
    rax.tick_params(axis='y', which='major', direction='in', length=9, width=1.2, labelright=False)
    rax.tick_params(axis='y', which='minor', direction='in', length=5, width=1.0)
    for sp in rax.spines.values():
        sp.set_visible(False)

    ax.set_ylabel('TEMPERATURE (C)', fontsize=10.5, fontweight='bold')
    ax.yaxis.set_label_coords(-0.097, 0.5)

    ax.text(0.014, 0.91, years[i], transform=ax.transAxes, fontsize=14,
            fontweight='bold', ha='left', va='center', zorder=6)

    # depth legend stacked at the right (overlapping, as in the original)
    for k, (lab, col) in enumerate(zip(depth_labels, depth_colors)):
        ax.text(305.6, 5.35 - 0.72 * k, lab, color=col, fontsize=11, fontweight='bold',
                ha='center', va='center', zorder=6)

axes[-1].set_xlabel('DAY OF YEAR', fontsize=10, fontweight='bold', labelpad=2)


def big_arrow(ax, x, y0, y1, color, clip=True):
    ax.annotate('', xy=(x, y1), xytext=(x, y0), annotation_clip=clip,
                arrowprops=dict(facecolor=color, edgecolor=color, width=3.5,
                                headwidth=14, headlength=13, shrink=0),
                zorder=7)


# 2012
a = axes[0]
a.annotate('Tair (2m)', xy=(282.05, 2.45), xytext=(282.7, 5.0), fontsize=24,
           va='center', ha='left', zorder=7,
           arrowprops=dict(arrowstyle='->', lw=1.0, color='black', shrinkA=2, shrinkB=0))
a.text(286.1, 2.5, 'snow-in > 0.60', color=RED, fontsize=22.5, va='center', ha='left', zorder=7)
big_arrow(a, 285.15, 4.5, 0.6, RED)
big_arrow(a, 278.1, -4.9, 0.8, GREEN)
a.text(259.3, -4.6, 'zero curtain', color='#22b8e6', fontsize=22, va='center', ha='left', zorder=7)

# 2013
a = axes[1]
big_arrow(a, 264.0, 5.8, 0.6, RED)
big_arrow(a, 275.7, 3.2, -0.1, GREEN)
a.text(276.3, 3.55, 'EOS_VEG', color=GREEN, fontsize=26, va='center', ha='left', zorder=7)

# 2014
a = axes[2]
big_arrow(a, 263.2, -5.5, 0.3, RED)
big_arrow(a, 268.7, -4.9, 0.2, GREEN)

# 2015
a = axes[3]
big_arrow(a, 274.1, 5.3, 1.0, RED)

# 2016
a = axes[4]
a.annotate('', xy=(295.0, 0.7), xytext=(295.0, 5.7), zorder=7,
           arrowprops=dict(arrowstyle='-|>', color=RED, lw=3, linestyle=(0, (1, 1)),
                           mutation_scale=34, shrinkA=0, shrinkB=0))
a.text(295.6, 4.0, '> 0.5', color='#e5562a', fontsize=22, va='center', ha='left', zorder=7)
big_arrow(a, 310.45, 5.9, 0.7, RED, clip=False)

fig.savefig('out.png', dpi=100)
